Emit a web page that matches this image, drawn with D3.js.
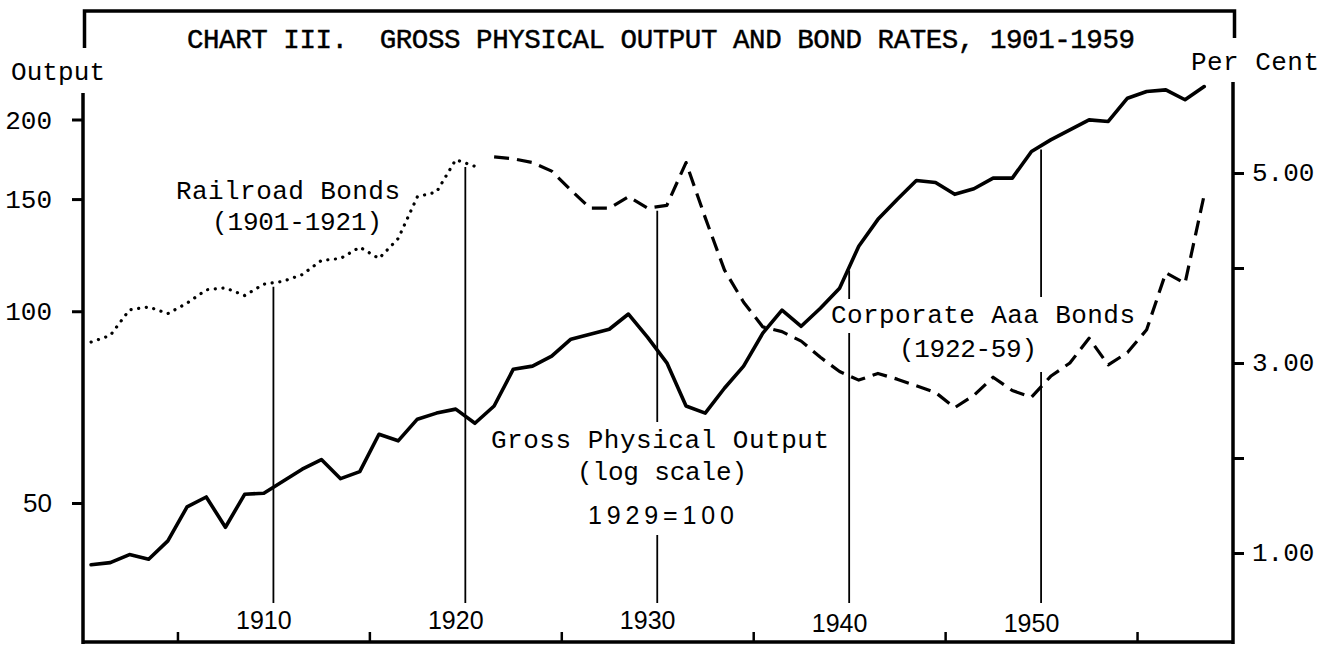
<!DOCTYPE html>
<html><head><meta charset="utf-8">
<script src="https://cdn.jsdelivr.net/npm/d3@7"></script>
<style>body{margin:0;background:#fff} svg{display:block}</style>
</head><body><svg id="c" width="1318" height="645"></svg>
<script>
// ---- data ----
const years = d3.range(1901, 1960);
const outputIndex = [40.0, 40.3, 41.5, 40.8, 43.6, 49.3, 51.1, 45.8, 51.6, 51.8,
  54.1, 56.5, 58.5, 54.6, 56.0, 64.1, 62.6, 67.7, 69.2, 70.2,
  66.7, 71.0, 81.1, 82.0, 85.0, 90.4, 92.0, 93.7, 99.0, 91.0,
  83.0, 71.0, 69.2, 75.7, 82.0, 92.4, 100.4, 94.7, 101.1, 108.7,
  126.5, 139.4, 149.8, 160.4, 159.3, 152.6, 155.7, 161.8, 161.8, 178.2,
  185.8, 192.7, 199.7, 198.6, 216.0, 221.3, 222.6, 214.8, 225.3];
const railYears = d3.range(1901, 1922);
const railroadRate = [3.22, 3.29, 3.56, 3.59, 3.52, 3.63, 3.77, 3.79, 3.71, 3.83,
  3.86, 3.93, 4.08, 4.10, 4.22, 4.10, 4.31, 4.75, 4.80, 5.14, 5.07];
const aaaYears = d3.range(1922, 1960);
const aaaRate = [5.17, 5.15, 5.11, 5.02, 4.82, 4.63, 4.63, 4.75, 4.63, 4.66,
  5.11, 4.53, 3.98, 3.64, 3.38, 3.33, 3.23, 3.06, 2.91, 2.82,
  2.89, 2.83, 2.76, 2.69, 2.53, 2.66, 2.85, 2.71, 2.64, 2.86,
  3.00, 3.26, 2.98, 3.11, 3.35, 3.95, 3.84, 4.77];
const leftTicks = [50, 100, 150, 200];
const rightTicks = [1, 2, 3, 4, 5];
const rightLabeled = [1, 3, 5];
const minorYearTicks = [1905, 1915, 1925, 1935, 1945, 1955];
const decadeYears = [1910, 1920, 1930, 1940, 1950];

// ---- layout ----
const mono = "'Liberation Mono','Courier New',monospace";
const sans = "'Liberation Sans',Arial,sans-serif";
const svg = d3.select("#c");
const left = 83, right = 1233, bottom = 642;
const x = d3.scaleLinear().domain([1900.5, 1960.5]).range([81.5, 1233]);
const yL = d3.scaleLog().domain([50, 200]).range([503, 119.5]);
const yR = d3.scaleLinear().domain([1, 5]).range([553, 173]);

// frame
const g = svg.append("g").attr("stroke", "#000").attr("fill", "none");
g.append("path").attr("stroke-width", 3.5).attr("d", `M${left+1.5},48 V11 H${right+1.5} V38`);
g.append("line").attr("stroke-width", 3.5).attr("x1", left).attr("x2", left).attr("y1", 93).attr("y2", bottom + 2);
g.append("line").attr("stroke-width", 3.5).attr("x1", right).attr("x2", right).attr("y1", 82).attr("y2", bottom + 2);
g.append("line").attr("stroke-width", 3.5).attr("x1", left).attr("x2", right).attr("y1", bottom).attr("y2", bottom);

// left axis
const axL = svg.append("g").attr("transform", `translate(${left},0)`)
  .call(d3.axisLeft(yL).tickValues(leftTicks).tickSize(11).tickPadding(20).tickFormat(d3.format("d")));
axL.select(".domain").remove();
axL.selectAll(".tick line").attr("stroke-width", 3);
axL.selectAll(".tick text").attr("font-family", d => d === 50 ? sans : mono)
  .attr("font-size", 26).attr("fill", "#000").attr("dy", "0.33em").attr("x", -31);

// right axis
const axR = svg.append("g").attr("transform", `translate(${right},0)`)
  .call(d3.axisRight(yR).tickValues(rightTicks).tickSize(11).tickPadding(8)
    .tickFormat(d => rightLabeled.includes(d) ? d3.format(".2f")(d) : ""));
axR.select(".domain").remove();
axR.selectAll(".tick line").attr("stroke-width", 3);
axR.selectAll(".tick text").attr("font-family", mono).attr("font-size", 26)
  .attr("fill", "#000").attr("dy", "0.3em").attr("x", 19);

// bottom minor ticks
const axB = svg.append("g").attr("transform", `translate(0,${bottom})`)
  .call(d3.axisBottom(x).tickValues(minorYearTicks.map(d => d + 0.5)).tickSize(-10).tickFormat(""));
axB.select(".domain").remove();
axB.selectAll(".tick line").attr("stroke-width", 2.5);

// year labels
svg.append("g").selectAll("text").data(decadeYears).join("text")
  .attr("x", d => x(d)).attr("y", (d, i) => i < 3 ? 629 : 632)
  .attr("text-anchor", "middle").attr("font-family", sans).attr("font-size", 25)
  .text(d => d);

// decade lines, starting just below the highest curve
function interp(xs, vs, t) {
  for (let i = 0; i < xs.length - 1; i++) if (t >= xs[i] && t <= xs[i+1])
    return vs[i] + (vs[i+1] - vs[i]) * (t - xs[i]) / (xs[i+1] - xs[i]);
  return null;
}
function topAt(t) {
  const cands = [];
  const o = interp(years, outputIndex, t); if (o != null) cands.push(yL(o));
  const r = interp(railYears, railroadRate, t); if (r != null) cands.push(yR(r));
  const a = interp(aaaYears, aaaRate, t); if (a != null) cands.push(yR(a));
  return d3.min(cands) + 4;
}
const textGaps = {1930: [[422, 535]], 1940: [[299, 333]], 1950: [[297, 372]]};
decadeYears.forEach(d => {
  const xx = x(d + 0.5);
  let segs = [[topAt(d + 0.5), 603]];
  (textGaps[d] || []).forEach(([a, b]) => {
    segs = segs.flatMap(([s, e]) => (a > s && b < e) ? [[s, a], [b, e]] : [[s, e]]);
  });
  segs.forEach(([s, e]) => g.append("line").attr("stroke-width", 1.8)
    .attr("x1", xx).attr("x2", xx).attr("y1", s).attr("y2", e));
});

// series
const lineOut = d3.line().x((d, i) => x(years[i])).y(d => yL(d));
svg.append("path").datum(outputIndex).attr("d", lineOut).attr("fill", "none")
  .attr("stroke", "#000").attr("stroke-width", 3.6).attr("stroke-linejoin", "round").attr("stroke-linecap", "round");
const lineRail = d3.line().x((d, i) => x(railYears[i])).y(d => yR(d));
svg.append("path").datum(railroadRate).attr("d", lineRail).attr("fill", "none")
  .attr("stroke", "#000").attr("stroke-width", 3.2).attr("stroke-linecap", "round")
  .attr("stroke-dasharray", "0.1,7.6");
const lineAaa = d3.line().x((d, i) => x(aaaYears[i])).y(d => yR(d));
svg.append("path").datum(aaaRate).attr("d", lineAaa).attr("fill", "none")
  .attr("stroke", "#000").attr("stroke-width", 3.2).attr("stroke-linejoin", "round")
  .attr("stroke-dasharray", "15,8");

// texts
function txt(s, x0, y0, len, font, size, weight) {
  const t = svg.append("text").attr("x", x0).attr("y", y0).attr("font-family", font)
    .attr("font-size", size).attr("font-weight", weight || "normal").attr("fill", "#000")
    .attr("xml:space", "preserve").style("white-space", "pre").text(s);
  if (len) t.attr("textLength", len).attr("lengthAdjust", "spacing");
  return t;
}
txt("CHART III.  GROSS PHYSICAL OUTPUT AND BOND RATES, 1901-1959", 187, 48, 948, mono, 27.5)
  .attr("stroke", "#000").attr("stroke-width", 0.45);
txt("Output", 11, 80, 94, mono, 26);
txt("Per Cent", 1191, 70, 128, mono, 26);
txt("Railroad Bonds", 176, 199, 224, mono, 26);
txt("(1901-1921)", 212, 230, 170, mono, 26);
txt("Gross Physical Output", 491, 448, 338, mono, 26);
txt("(log scale)", 577, 480, 170, mono, 26);
txt("1929=100", 588, 524, 146, sans, 25);
txt("Corporate Aaa Bonds", 831, 323, 304, mono, 26);
txt("(1922-59)", 899, 357, 138, mono, 26);
</script></body></html>
